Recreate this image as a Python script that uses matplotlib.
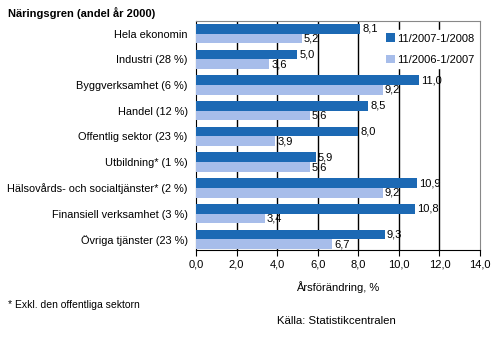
import numpy as np
import matplotlib.pyplot as plt
from matplotlib.ticker import FuncFormatter

plt.rcParams['font.family'] = ['Liberation Sans', 'DejaVu Sans']

# branscher och årsförändring (%)
kategorier = ['Hela ekonomin', 'Industri (28 %)', 'Byggverksamhet (6 %)',
              'Handel (12 %)', 'Offentlig sektor (23 %)', 'Utbildning* (1 %)',
              'Hälsovårds- och socialtjänster* (2 %)',
              'Finansiell verksamhet (3 %)', 'Övriga tjänster (23 %)']
serie_2008 = [8.1, 5.0, 11.0, 8.5, 8.0, 5.9, 10.9, 10.8, 9.3]
serie_2007 = [5.2, 3.6, 9.2, 5.6, 3.9, 5.6, 9.2, 3.4, 6.7]
namn = ['11/2007-1/2008', '11/2006-1/2007']

morkbla = '#1c69b4'
ljusbla = '#a7bdea'

fig = plt.figure(figsize=(4.98, 3.44), dpi=100)
ax = fig.add_axes([0.3936, 0.273, 0.5703, 0.666])

y = np.arange(len(kategorier))
h = 0.378
b1 = ax.barh(y - h/2, serie_2008, height=h, color=morkbla, label=namn[0], zorder=3)
b2 = ax.barh(y + h/2, serie_2007, height=h, color=ljusbla, label=namn[1], zorder=3)

def komma(v):
    return f'{v:.1f}'.replace('.', ',')

for bars, vals in ((b1, serie_2008), (b2, serie_2007)):
    for rect, v in zip(bars, vals):
        ax.text(v + 0.1, rect.get_y() + rect.get_height()/2, komma(v),
                va='center', ha='left', fontsize=8, zorder=4)

ax.set_xlim(0, 14)
ax.set_ylim(8.42, -0.49)
ax.set_xticks(np.arange(0, 15, 2))
ax.xaxis.set_major_formatter(FuncFormatter(lambda v, p: komma(v)))
ax.set_yticks(y)
ax.set_yticklabels(kategorier)
ax.tick_params(axis='y', length=0, labelsize=7.9, pad=6)
ax.tick_params(axis='x', direction='out', length=4, labelsize=8, pad=3)

for g in range(2, 13, 2):
    ax.axvline(g, color='black', lw=1, zorder=1)

for s in ('top', 'right'):
    ax.spines[s].set_color('#888888')
ax.spines['left'].set_color('black')
ax.spines['bottom'].set_color('black')

ax.set_xlabel('Årsförändring, %', fontsize=8, labelpad=8)

leg = ax.legend(loc='upper right', bbox_to_anchor=(1.0, 0.97), frameon=True,
                fontsize=8, handlelength=0.8, handleheight=0.8,
                handletextpad=0.2, labelspacing=1.0, borderaxespad=0.2,
                borderpad=0.3, fancybox=False)
leg.get_frame().set_edgecolor('white')
leg.get_frame().set_alpha(1)
leg.set_zorder(5)

fig.text(0.016, 0.962, 'Näringsgren (andel år 2000)', fontsize=8,
         fontweight='bold', va='center')
fig.text(0.016, 0.113, '* Exkl. den offentliga sektorn', fontsize=7.5, va='center')
fig.text(0.556, 0.067, 'Källa: Statistikcentralen', fontsize=8.2, va='center')

fig.savefig('out.png', dpi=100)
